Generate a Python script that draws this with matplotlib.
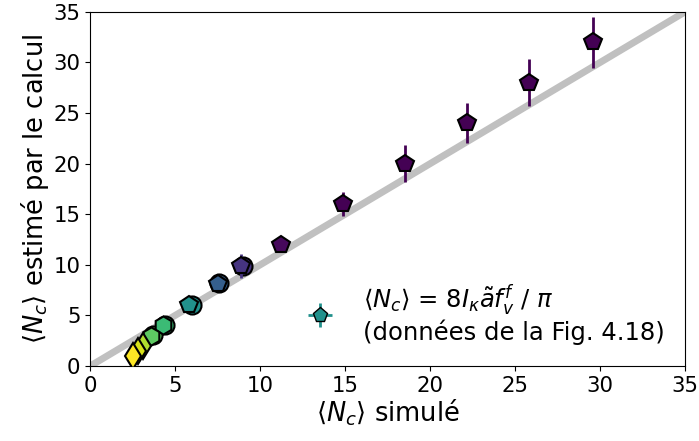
import matplotlib
matplotlib.use("Agg")
import matplotlib.pyplot as plt
import numpy as np

plt.rcParams["font.family"] = ["DejaVu Sans"]
plt.rcParams["mathtext.fontset"] = "dejavusans"

# données : <Nc> simulé, <Nc> calculé, barre d'erreur, couleur (0-1 viridis)
nc_sim = [29.6, 25.8, 22.2, 18.5, 14.9, 11.2, 8.9, 7.5, 5.8, 4.3, 3.6, 3.1, 2.8, 2.5]
nc_calc = [32.0, 28.0, 24.0, 20.0, 16.0, 12.0, 9.9, 8.1, 6.0, 4.1, 3.0, 2.0, 1.5, 1.0]
nc_err = [2.5, 2.3, 2.0, 1.8, 1.2, 0.6, 1.2, 0.5, 0.4, 0.3, 0.3, 0.2, 0.2, 0.2]
c_val = [0.0, 0.0, 0.0, 0.0, 0.0, 0.02, 0.15, 0.3, 0.5, 0.68, 0.75, 0.88, 0.94, 1.0]
# second jeu (cercles), légèrement décalé
circ_sim = [9.0, 7.6, 6.0, 4.4, 3.7]
circ_calc = [9.9, 8.2, 6.0, 4.1, 3.1]
circ_c = [0.15, 0.3, 0.5, 0.68, 0.75]

cmap = plt.get_cmap("viridis")

fig = plt.figure(figsize=(6.99, 4.41), dpi=100)
ax = fig.add_axes([0.129, 0.17, 0.851, 0.803])

ax.plot([0, 35], [0, 35], color="#c0c0c0", lw=5, zorder=1)

for x, y, c in zip(circ_sim, circ_calc, circ_c):
    ax.plot(x, y, "o", ms=13, mfc=cmap(c), mec="k", mew=1.5, zorder=2)

for x, y, e, c in zip(nc_sim, nc_calc, nc_err, c_val):
    col = cmap(c)
    mk = "d" if c > 0.85 else ("h" if c > 0.6 else "p")
    ax.errorbar(x, y, yerr=e, fmt=mk, ms=13, mfc=col, mec="k", mew=1.5,
                ecolor=col, elinewidth=2, capsize=0, zorder=3)

# entrée de légende
ax.errorbar([np.nan], [np.nan], xerr=[1], yerr=[1], fmt="p", ms=11,
            mfc=cmap(0.5), mec="k", mew=1, ecolor=cmap(0.5), elinewidth=2,
            label="$\\langle N_c \\rangle$ = $8I_\\kappa\\tilde{a}f_v^f$ / $\\pi$\n(données de la Fig. 4.18)")
leg = ax.legend(loc="upper left", bbox_to_anchor=(0.345, 0.235), frameon=False,
                fontsize=17.5, handletextpad=0.8, borderpad=0, borderaxespad=0,
                handlelength=2.0)
for t in leg.get_texts():
    t.set_linespacing(1.05)

ax.set_xlim(0, 35)
ax.set_ylim(0, 35)
ax.set_xticks(range(0, 36, 5))
ax.set_yticks(range(0, 36, 5))
ax.tick_params(labelsize=15.3)
ax.set_xlabel("$\\langle N_c \\rangle$ simulé", fontsize=18.5, labelpad=1)
ax.set_ylabel("$\\langle N_c \\rangle$ estimé par le calcul", fontsize=18.5, labelpad=2)

fig.savefig("out.png", dpi=100)
